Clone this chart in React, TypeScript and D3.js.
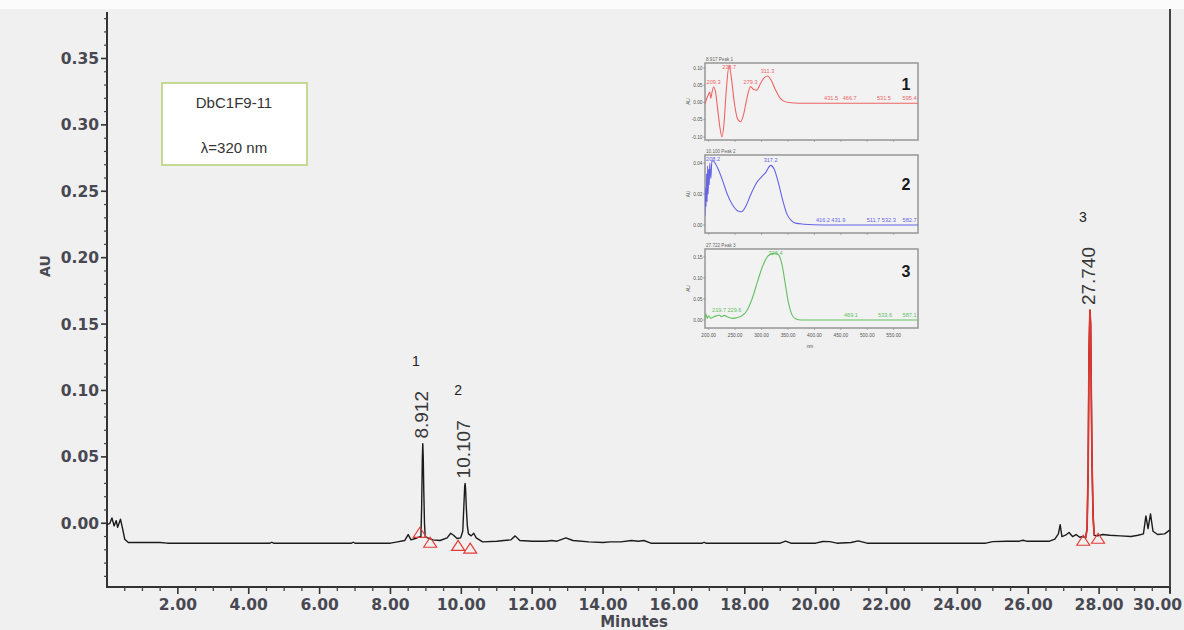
import React from 'react';
import * as d3 from 'd3';

const WIDTH = 1184;
const HEIGHT = 630;

// Chromatogram at 320 nm: retention time (min), absorbance (AU)
const baselineTrace: [number, number][] = [
  [0.0, -0.001], [0.08, 0.0], [0.14, 0.004], [0.2, -0.002], [0.26, 0.002], [0.3, -0.003],
  [0.38, 0.003], [0.44, -0.004], [0.5, -0.012], [0.6, -0.0145], [1.5, -0.0145], [1.7, -0.015],
  [4.6, -0.015], [4.65, -0.0143], [4.7, -0.015], [6.9, -0.015], [6.95, -0.0143], [7.0, -0.015],
  [8.0, -0.015], [8.2, -0.014], [8.4, -0.013], [8.5, -0.0085], [8.58, -0.0125], [8.7, -0.0115],
  [8.8, -0.0105], [9.05, -0.011], [9.2, -0.0125], [9.4, -0.013], [9.6, -0.011], [9.7, -0.0075],
  [9.78, -0.009], [9.88, -0.0115], [9.98, -0.011], [10.28, -0.0095], [10.35, -0.0075],
  [10.42, -0.011], [10.6, -0.014], [11.0, -0.0135], [11.2, -0.013], [11.4, -0.0125],
  [11.52, -0.0095], [11.65, -0.013], [12.0, -0.0135], [12.4, -0.0135], [12.55, -0.013],
  [12.7, -0.0135], [12.95, -0.011], [13.15, -0.013], [13.6, -0.014], [14.0, -0.0145],
  [14.2, -0.014], [14.5, -0.014], [14.8, -0.013], [15.0, -0.0135], [15.15, -0.013],
  [15.35, -0.015], [16.8, -0.015], [16.85, -0.0143], [16.9, -0.015], [19.0, -0.015],
  [19.15, -0.0135], [19.3, -0.015], [20.0, -0.015], [20.2, -0.0137], [20.4, -0.0138],
  [20.6, -0.015], [21.0, -0.0145], [21.2, -0.0133], [21.45, -0.015], [24.8, -0.015],
  [25.0, -0.0138], [25.4, -0.0135], [25.75, -0.0135], [25.85, -0.0128], [25.95, -0.0135],
  [26.6, -0.0135], [26.75, -0.012], [26.85, -0.008], [26.9, -0.001], [26.95, -0.01],
  [27.05, -0.009], [27.15, -0.007], [27.25, -0.01], [27.35, -0.0085], [27.45, -0.0105],
  [27.55, -0.01], [27.62, -0.011], [27.95, -0.0095], [28.1, -0.0085], [28.3, -0.009],
  [28.6, -0.0095], [28.9, -0.01], [29.1, -0.009], [29.25, -0.008], [29.32, 0.0055],
  [29.38, -0.004], [29.45, 0.007], [29.52, -0.006], [29.65, -0.0085], [29.85, -0.008],
  [30.0, -0.005],
];

const peak1Trace: [number, number][] = [
  [8.86, -0.01], [8.88, 0.012], [8.9, 0.05], [8.912, 0.06], [8.925, 0.05], [8.94, 0.025],
  [8.96, 0.0], [8.98, -0.01],
];
const peak2Trace: [number, number][] = [
  [10.04, -0.006], [10.07, 0.012], [10.095, 0.028], [10.107, 0.03], [10.12, 0.026],
  [10.14, 0.012], [10.17, -0.002], [10.2, -0.008],
];
const peak3Trace: [number, number][] = [
  [27.66, -0.004], [27.69, 0.04], [27.715, 0.13], [27.74, 0.1605], [27.76, 0.15],
  [27.78, 0.095], [27.8, 0.045], [27.83, 0.005], [27.86, -0.009],
];

const peakTimes = [8.912, 10.107, 27.74];
const peakHeights = [0.06, 0.03, 0.1605];
const peakNumbers = ['1', '2', '3'];

// Integration start / end markers (min, AU)
const integrationMarks: [number, number][] = [
  [8.83, -0.0068], [9.12, -0.0143], [9.91, -0.0166], [10.25, -0.0188], [27.55, -0.0128], [27.97, -0.0113],
];

const xTickValues = [2, 4, 6, 8, 10, 12, 14, 16, 18, 20, 22, 24, 26, 28, 30];
const yTickValues = [0, 0.05, 0.1, 0.15, 0.2, 0.25, 0.3, 0.35];

const sampleName = 'DbC1F9-11';
const wavelengthNote = 'λ=320 nm';

// UV spectra of the three peaks: wavelength (nm), absorbance (AU)
const spectrum1: [number, number][] = [
  [193, -0.005], [196, 0.01], [199, 0.022], [202, 0.03], [204, 0.012], [206, 0.028], [209.3, 0.045],
  [213, 0.03], [217, -0.02], [221, -0.07], [225, -0.1], [229, -0.06], [233, 0.03], [238.7, 0.108],
  [243, 0.07], [248, 0.005], [254, -0.045], [260, -0.056], [266, -0.035], [272, 0.01], [279.3, 0.046],
  [285, 0.038], [291, 0.036], [298, 0.055], [304, 0.07], [311.3, 0.077], [318, 0.065], [326, 0.038],
  [334, 0.015], [342, 0.004], [352, 0.0], [370, -0.002], [431.5, -0.002], [466.7, -0.002],
  [531.5, -0.002], [596, -0.002],
];
const spectrum2: [number, number][] = [
  [193, 0.006], [194, 0.024], [195, 0.012], [196, 0.033], [197, 0.015], [198, 0.038], [199, 0.02],
  [200, 0.036], [201, 0.026], [202, 0.04], [204, 0.03], [206, 0.041], [208.2, 0.0415], [212, 0.04],
  [218, 0.036], [226, 0.029], [235, 0.02], [245, 0.013], [255, 0.009], [262, 0.0085], [270, 0.012],
  [280, 0.02], [290, 0.027], [300, 0.031], [308, 0.034], [317.2, 0.0385], [324, 0.036], [332, 0.027],
  [340, 0.016], [348, 0.007], [356, 0.003], [366, 0.001], [380, 0.0005], [416.2, 0.0], [431.9, 0.0],
  [511.7, 0.0], [532.3, 0.0], [582.7, 0.0], [596, 0.0],
];
const spectrum3: [number, number][] = [
  [193, 0.002], [195, 0.014], [197, 0.004], [200, 0.01], [204, 0.004], [210, 0.008], [215, 0.01],
  [219.7, 0.012], [224, 0.008], [229.6, 0.011], [236, 0.007], [245, 0.004], [255, 0.006], [263, 0.01],
  [272, 0.022], [282, 0.05], [292, 0.09], [302, 0.128], [312, 0.152], [320, 0.158], [326.4, 0.159],
  [333, 0.154], [339, 0.13], [345, 0.085], [351, 0.04], [357, 0.014], [364, 0.003], [375, 0.0],
  [469.1, 0.0], [533.6, 0.0], [587.1, 0.0], [596, 0.0],
];
const spectrum1Maxima = [209.3, 238.7, 279.3, 311.3, 431.5, 466.7, 531.5, 595.4];
const spectrum2Maxima = [208.2, 317.2, 416.2, 431.9, 511.7, 532.3, 582.7];
const spectrum3Maxima = [219.7, 229.6, 326.4, 469.1, 533.6, 587.1];
const spectrumTitles = ['8.917 Peak 1', '10.100 Peak 2', '27.722 Peak 3'];
const spectrum1Ticks = [0.1, 0.05, 0, -0.05, -0.1];
const spectrum2Ticks = [0.04, 0.02, 0];
const spectrum3Ticks = [0.15, 0.1, 0.05, 0];
const nmTickValues = [200, 250, 300, 350, 400, 450, 500, 550];

const AXIS_FONT = "'DejaVu Sans', sans-serif";
const LABEL_FONT = "'Liberation Sans', Arial, sans-serif";

type Panel = {
  data: [number, number][];
  maxima: number[];
  ticks: number[];
  domain: [number, number];
  top: number;
  bottom: number;
  color: string;
  title: string;
  number: string;
  numberDy: number;
  showNm: boolean;
};

const INSET_LEFT = 705;
const INSET_RIGHT = 918;

function SpectrumPanel({ p }: { p: Panel }) {
  const xs = d3.scaleLinear().domain([193, 596]).range([INSET_LEFT, INSET_RIGHT]);
  const ys = d3.scaleLinear().domain(p.domain).range([p.bottom, p.top]);
  const line = d3
    .line<[number, number]>()
    .x((d) => xs(d[0]))
    .y((d) => ys(d[1]))
    .curve(d3.curveMonotoneX);

  // place maxima labels, nudging them apart so they do not overlap
  const fs = 5.6;
  const sorted = [...p.maxima].sort((a, b) => a - b);
  const placed: { text: string; cx: number; y: number; w: number }[] = [];
  let prevRight = -Infinity;
  sorted.forEach((nm) => {
    const text = nm.toFixed(1);
    const w = text.length * fs * 0.53;
    let cx = Math.max(xs(nm), prevRight + w / 2 + 0.5);
    cx = Math.min(cx, INSET_RIGHT - w / 2 - 1);
    const nearest = p.data.reduce((best, d) => (Math.abs(d[0] - nm) < Math.abs(best[0] - nm) ? d : best));
    const yb = Math.max(ys(nearest[1]) - 3, p.top + 6);
    placed.push({ text, cx, y: yb, w });
    prevRight = cx + w / 2;
  });

  const clipId = `clip-${p.number}`;
  return (
    <g>
      <text x={INSET_LEFT + 1} y={p.top - 2} fontSize={4.6} fill="#666" fontFamily={LABEL_FONT}>
        {p.title}
      </text>
      <rect
        x={INSET_LEFT}
        y={p.top}
        width={INSET_RIGHT - INSET_LEFT}
        height={p.bottom - p.top}
        fill="#f2f2f2"
        stroke="#9c9c9c"
        strokeWidth={1.6}
      />
      {p.ticks.map((t) => (
        <g key={t}>
          <line x1={INSET_LEFT - 2} x2={INSET_LEFT} y1={ys(t)} y2={ys(t)} stroke="#888" strokeWidth={0.6} />
          <text
            x={INSET_LEFT - 2.5}
            y={ys(t)}
            dy="0.35em"
            textAnchor="end"
            fontSize={4.8}
            fill="#555"
            fontFamily={LABEL_FONT}
          >
            {t.toFixed(2)}
          </text>
        </g>
      ))}
      <text
        transform={`translate(${INSET_LEFT - 15},${(p.top + p.bottom) / 2}) rotate(-90)`}
        textAnchor="middle"
        fontSize={4.8}
        fill="#555"
        fontFamily={LABEL_FONT}
      >
        AU
      </text>
      <defs>
        <clipPath id={clipId}>
          <rect x={INSET_LEFT} y={p.top - 2} width={INSET_RIGHT - INSET_LEFT} height={p.bottom - p.top + 2} />
        </clipPath>
      </defs>
      <path d={line(p.data) || ''} fill="none" stroke={p.color} strokeWidth={1.1} clipPath={`url(#${clipId})`} />
      {placed.map((l) => (
        <text
          key={l.text}
          x={l.cx}
          y={l.y}
          textAnchor="middle"
          fontSize={fs}
          fill={p.color}
          fontFamily={LABEL_FONT}
        >
          {l.text}
        </text>
      ))}
      <text
        x={906}
        y={p.top + p.numberDy}
        textAnchor="middle"
        fontSize={16}
        fontWeight="bold"
        fill="#1a1a1a"
        fontFamily={LABEL_FONT}
      >
        {p.number}
      </text>
      {nmTickValues.map((nm) => (
        <line key={nm} x1={xs(nm)} x2={xs(nm)} y1={p.bottom} y2={p.bottom + 2} stroke="#888" strokeWidth={0.6} />
      ))}
      {p.showNm && (
        <g>
          {nmTickValues.map((nm) => (
            <text
              key={nm}
              x={xs(nm)}
              y={p.bottom + 9}
              textAnchor="middle"
              fontSize={4.8}
              fill="#555"
              fontFamily={LABEL_FONT}
            >
              {nm.toFixed(2)}
            </text>
          ))}
          <text x={810} y={p.bottom + 20} textAnchor="middle" fontSize={4.8} fill="#555" fontFamily={LABEL_FONT}>
            nm
          </text>
        </g>
      )}
    </g>
  );
}

export default function App() {
  const x = d3.scaleLinear().domain([0, 30]).range([107, 1170]);
  const y = d3.scaleLinear().domain([-0.048, 0.385]).range([587, 12]);
  const x0 = x(0);
  const xEnd = x(30);
  const yBottom = y(-0.048);
  const yTop = y(0.385);

  const trace = [...baselineTrace, ...peak1Trace, ...peak2Trace, ...peak3Trace].sort((a, b) => a[0] - b[0]);
  const line = d3
    .line<[number, number]>()
    .x((d) => x(d[0]))
    .y((d) => y(d[1]));
  const peak3Segment = trace.filter((d) => d[0] >= 27.62 && d[0] <= 27.86);

  const xMinor = d3.range(0.5, 30, 0.5).filter((t) => Math.abs(t % 2) > 1e-6);
  const yMinor = d3.range(-4, 39).map((k) => k / 100).filter((v) => Math.round(v * 100) % 5 !== 0);

  const labelFs = 19;
  const textLen = (s: string) =>
    s.split('').reduce((acc, ch) => acc + (ch === '.' ? 0.278 : 0.556), 0) * labelFs;

  const panels: Panel[] = [
    {
      data: spectrum1, maxima: spectrum1Maxima, ticks: spectrum1Ticks, domain: [-0.1087, 0.1145],
      top: 63, bottom: 140, color: '#ee6464', title: spectrumTitles[0], number: '1', numberDy: 27, showNm: false,
    },
    {
      data: spectrum2, maxima: spectrum2Maxima, ticks: spectrum2Ticks, domain: [-0.0052, 0.0452],
      top: 155, bottom: 233, color: '#6464e6', title: spectrumTitles[1], number: '2', numberDy: 35, showNm: false,
    },
    {
      data: spectrum3, maxima: spectrum3Maxima, ticks: spectrum3Ticks, domain: [-0.019, 0.169],
      top: 249, bottom: 328, color: '#62c062', title: spectrumTitles[2], number: '3', numberDy: 28, showNm: true,
    },
  ];

  const tri = (cx: number, cy: number) =>
    `M${cx - 6.5},${cy + 5} L${cx},${cy - 5} L${cx + 6.5},${cy + 5} Z`;

  const tickFs = 15.5;
  // keep the last tick label inside the drawing area
  const tickLabelX = (t: number) => {
    const label = t.toFixed(2);
    const half = (label.replace('.', '').length * 0.696 + 0.38) * tickFs * 0.5;
    return Math.min(x(t), WIDTH - 2 - half);
  };

  return (
    <div style={{ position: 'absolute', left: 0, top: 0 }}>
      <svg width={WIDTH} height={HEIGHT} viewBox={`0 0 ${WIDTH} ${HEIGHT}`}>
        <rect x={0} y={0} width={WIDTH} height={HEIGHT} fill="#f0f0f0" />
        <rect x={0} y={0} width={WIDTH} height={9} fill="#fbfbfb" />

        {/* axes frame */}
        <line x1={x0} x2={x0} y1={yTop} y2={yBottom + 1} stroke="#333" strokeWidth={2} />
        <line x1={x0} x2={xEnd} y1={yBottom} y2={yBottom} stroke="#333" strokeWidth={2} />
        <line x1={xEnd} x2={xEnd} y1={9} y2={yBottom + 6} stroke="#444" strokeWidth={2} />

        {/* y ticks */}
        {yMinor.map((v) => (
          <line key={`ym${v}`} x1={x0 - 3} x2={x0} y1={y(v)} y2={y(v)} stroke="#444" strokeWidth={1.2} />
        ))}
        {yTickValues.map((v) => (
          <g key={`y${v}`}>
            <line x1={x0 - 6} x2={x0} y1={y(v)} y2={y(v)} stroke="#333" strokeWidth={1.6} />
            <text
              x={x0 - 8}
              y={y(v)}
              dy="0.36em"
              textAnchor="end"
              fontSize={tickFs}
              fontWeight="bold"
              fill="#484852"
              fontFamily={AXIS_FONT}
            >
              {v.toFixed(2)}
            </text>
          </g>
        ))}
        <text
          transform={`translate(45,266) rotate(-90)`}
          textAnchor="middle"
          dy="0.36em"
          fontSize={14}
          fontWeight="bold"
          fill="#4a4a52"
          fontFamily={AXIS_FONT}
        >
          AU
        </text>

        {/* x ticks */}
        {xMinor.map((t) => (
          <line key={`xm${t}`} x1={x(t)} x2={x(t)} y1={yBottom} y2={yBottom + 4} stroke="#444" strokeWidth={1.3} />
        ))}
        {xTickValues.map((t) => (
          <g key={`x${t}`}>
            <line x1={x(t)} x2={x(t)} y1={yBottom} y2={yBottom + 7} stroke="#333" strokeWidth={1.6} />
            <text
              x={tickLabelX(t)}
              y={610}
              textAnchor="middle"
              fontSize={tickFs}
              fontWeight="bold"
              fill="#484852"
              fontFamily={AXIS_FONT}
            >
              {t.toFixed(2)}
            </text>
          </g>
        ))}
        <text x={634} y={627} textAnchor="middle" fontSize={15} fontWeight="bold" fill="#484852" fontFamily={AXIS_FONT}>
          Minutes
        </text>

        {/* sample legend */}
        <rect x={162} y={83} width={145} height={82} fill="#ffffff" stroke="#b9d27a" strokeWidth={1.6} />
        <text x={234} y={108} textAnchor="middle" fontSize={15} fill="#333" fontFamily={LABEL_FONT}>
          {sampleName}
        </text>
        <text x={234} y={153} textAnchor="middle" fontSize={15} fill="#333" fontFamily={LABEL_FONT}>
          {wavelengthNote}
        </text>

        {/* chromatogram */}
        <path d={line(trace) || ''} fill="none" stroke="#1b1b1b" strokeWidth={1.4} strokeLinejoin="round" />
        <path d={line(peak3Segment) || ''} fill="none" stroke="#e8322c" strokeWidth={1.7} strokeLinejoin="round" />
        {integrationMarks.map(([t, v], i) => (
          <path key={i} d={tri(x(t), y(v))} fill="none" stroke="#e43a36" strokeWidth={1.2} />
        ))}

        {/* peak annotations */}
        {peakTimes.map((t, i) => {
          const px = x(t);
          const py = y(peakHeights[i]);
          const label = t.toFixed(3);
          const top = py - 5 - textLen(label);
          return (
            <g key={label}>
              <text
                transform={`translate(${px + 5},${py - 5}) rotate(-90)`}
                fontSize={labelFs}
                fill="#383838"
                fontFamily={LABEL_FONT}
              >
                {label}
              </text>
              <text x={px - 7} y={top - 25} textAnchor="middle" fontSize={14} fill="#222" fontFamily={LABEL_FONT}>
                {peakNumbers[i]}
              </text>
            </g>
          );
        })}

        {/* UV spectra inset */}
        {panels.map((p) => (
          <SpectrumPanel key={p.number} p={p} />
        ))}
      </svg>
    </div>
  );
}
